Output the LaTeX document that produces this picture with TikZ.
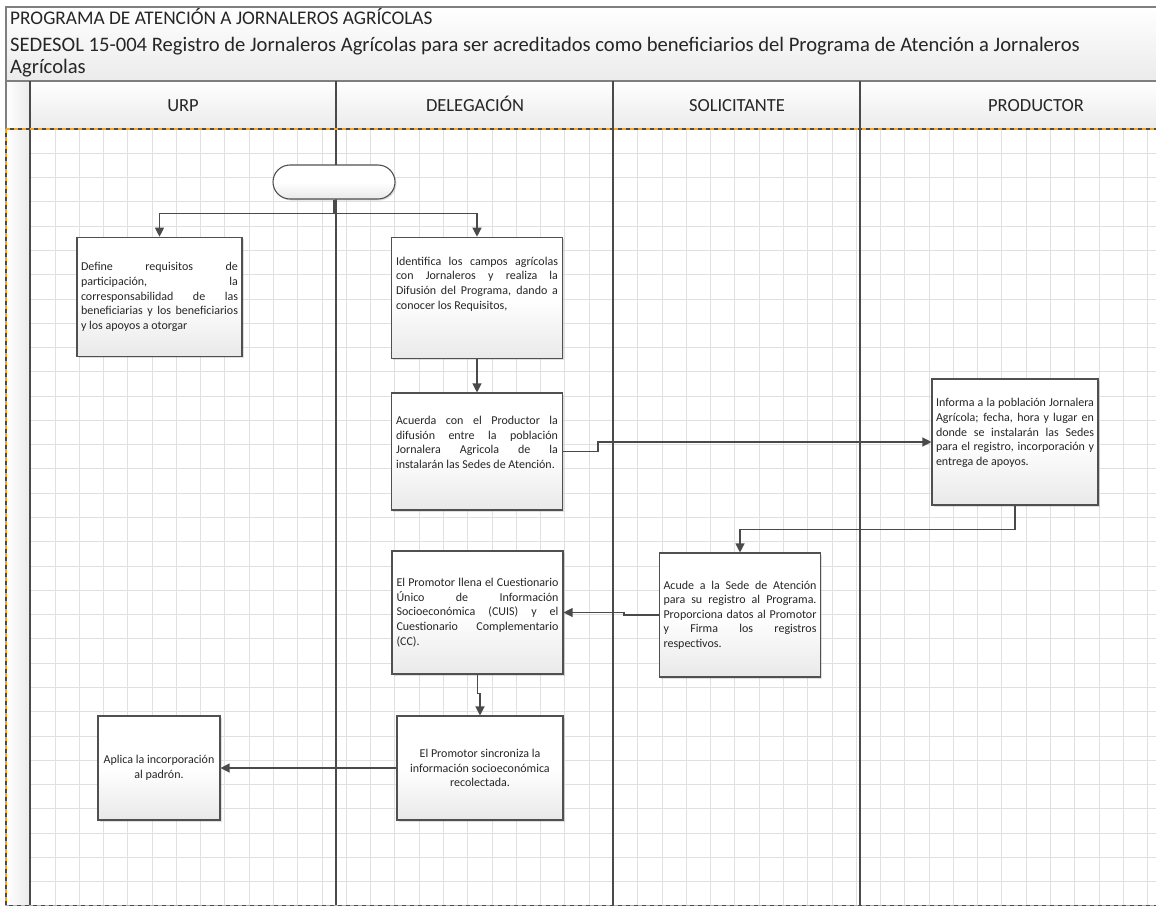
\documentclass[tikz,border=0pt]{standalone}
\usepackage{fontspec}
\setmainfont{Carlito}
\usepackage{xcolor}
\usepackage{tikz}
\usetikzlibrary{positioning, arrows.meta, calc, shadows}
\definecolor{lineDark}{HTML}{4a4a4a}
\definecolor{boxLine}{HTML}{505050}
\definecolor{frameGray}{HTML}{7f7f7f}
\definecolor{gridLine}{HTML}{e0e0e0}
\definecolor{boxShade}{HTML}{e9e9e9}
\definecolor{hdrShade}{HTML}{ebebeb}
\definecolor{laneOrange}{HTML}{f5a623}
\definecolor{txtDark}{HTML}{262626}
\hyphenpenalty=10000
\begin{document}
\begin{tikzpicture}[x=1pt, y=-1pt, act/.style={draw=boxLine, line width=1.1pt, top color=white, bottom color=boxShade, middle color=white, font=\fontsize{12}{14.6}\selectfont, text=txtDark, align=justify, inner xsep=4pt, inner ysep=0pt, drop shadow={shadow xshift=1.5pt, shadow yshift=-1.5pt, opacity=0.25}}, term/.style={act, rounded corners=17pt, minimum width=122pt, minimum height=34pt}, flow/.style={draw=lineDark, line width=1.2pt, -{Triangle[length=9pt, width=9pt]}}, lane/.style={draw=lineDark, line width=1.3pt}, swim/.style={line width=1.4pt, draw=lineDark, postaction={draw=laneOrange, dash pattern=on 4pt off 4pt}}, hdr/.style={font=\fontsize{18.5}{21}\selectfont, text=txtDark, anchor=base}, ttl/.style={font=\fontsize{20.6}{23}\selectfont, text=txtDark, anchor=base west, inner sep=0pt}]
\clip (0,0) rectangle (1156,907);
\fill[white] (0,0) rectangle (1156,907);
\path[top color=white, bottom color=hdrShade] (6,7) rectangle (1230,81);
\path[top color=white, bottom color=hdrShade] (30,81) rectangle (1230,129);
\path[left color=white, right color=hdrShade] (6,81) rectangle (30,905);
\foreach \i in {1,...,47} \draw[gridLine, line width=0.9pt] ({30.7+\i*24.28},129) -- ({30.7+\i*24.28},905);
\foreach \j in {1,...,31} \draw[gridLine, line width=0.9pt] (30.7,{129+\j*24.28}) -- (1230,{129+\j*24.28});
\draw[frameGray, line width=1.3pt] (1230,7) -- (6,7) -- (6,129);
\draw[frameGray, line width=1.3pt] (6,81) -- (1230,81);
\draw[lane] (30,81) -- (30,905);
\draw[lane] (336,81) -- (336,905);
\draw[lane] (613,81) -- (613,905);
\draw[lane] (860,81) -- (860,905);
\draw[swim] (6,129) -- (1230,129);
\draw[swim] (6,129) -- (6,905.5) -- (1230,905.5);
\node[ttl, font=\fontsize{19.3}{23}\selectfont] (ttlA) at (10,24.5) {PROGRAMA DE ATENCIÓN A JORNALEROS AGRÍCOLAS};
\node[ttl] (ttlB) at (10,51.5) {SEDESOL 15-004 Registro de Jornaleros Agrícolas para ser acreditados como beneficiarios del Programa de Atención a Jornaleros};
\node[ttl] (ttlC) at (10,73.5) {Agrícolas};
\node[hdr] (urp) at (183,111) {URP};
\node[hdr] (deleg) at (475,111) {DELEGACIÓN};
\node[hdr] (solic) at (737,111) {SOLICITANTE};
\node[hdr] (produc) at (1036,111) {PRODUCTOR};
\node[term] (start) at (334,182) {};
\node[act, text width=157pt, minimum width=165pt, minimum height=119.5pt] (define) at (159.5,297) {Define requisitos de\linebreak participación, la\linebreak corresponsabilidad de las\linebreak beneficiarias y los beneficiarios\linebreak y los apoyos a otorgar};
\node[act, text width=162pt, minimum width=171pt, minimum height=121.5pt] (ident) at (477,298) {Identifica los campos agrícolas\linebreak con Jornaleros y realiza la\linebreak Difusión del Programa, dando a\linebreak conocer los Requisitos,\par\vspace*{28pt}};
\node[act, text width=162pt, minimum width=171pt, minimum height=117pt] (acuer) at (477,451.5) {Acuerda con el Productor la\linebreak difusión entre la población\linebreak Jornalera Agricola de la\linebreak instalarán las Sedes de Atención.\par\vspace*{18pt}};
\node[act, text width=158pt, minimum width=166pt, minimum height=126pt] (inform) at (1015,442) {Informa a la población Jornalera\linebreak Agrícola; fecha, hora y lugar en\linebreak donde se instalarán las Sedes\linebreak para el registro, incorporación y\linebreak entrega de apoyos.\par\vspace*{18pt}};
\node[act, text width=153pt, minimum width=160pt, minimum height=124pt] (acude) at (740,615) {Acude a la Sede de Atención\linebreak para su registro al Programa.\linebreak Proporciona datos al Promotor\linebreak y Firma los registros\linebreak respectivos.};
\node[act, text width=162pt, minimum width=171pt, minimum height=123pt] (prom) at (477.5,612.5) {El Promotor llena el Cuestionario\linebreak Único de Información\linebreak Socioeconómica (CUIS) y el\linebreak Cuestionario Complementario\linebreak (CC).};
\node[act, align=center, minimum width=166pt, minimum height=104pt] (sinc) at (480,768) {El Promotor sincroniza la\\información socioeconómica\\recolectada.};
\node[act, align=center, minimum width=122pt, minimum height=104pt] (aplica) at (159,768) {Aplica la incorporación\\al padrón.};
\draw[flow] (start.south) -- ++(0,14) -| (define.north);
\draw[flow] (start.south) -- ++(0,14) -| (ident.north);
\draw[flow] (ident.south) -- (acuer.north);
\draw[flow] (acuer.east) -- ++(35,0) |- (inform.west);
\draw[flow] (inform.south) -- ++(0,24) -| (acude.north);
\draw[flow] (acude.west) -- ++(-35,0) |- (prom.east);
\draw[flow] (prom.south) -- ++(0,19) -| (sinc.north);
\draw[flow] (sinc.west) -- (aplica.east);
\end{tikzpicture}
\end{document}
